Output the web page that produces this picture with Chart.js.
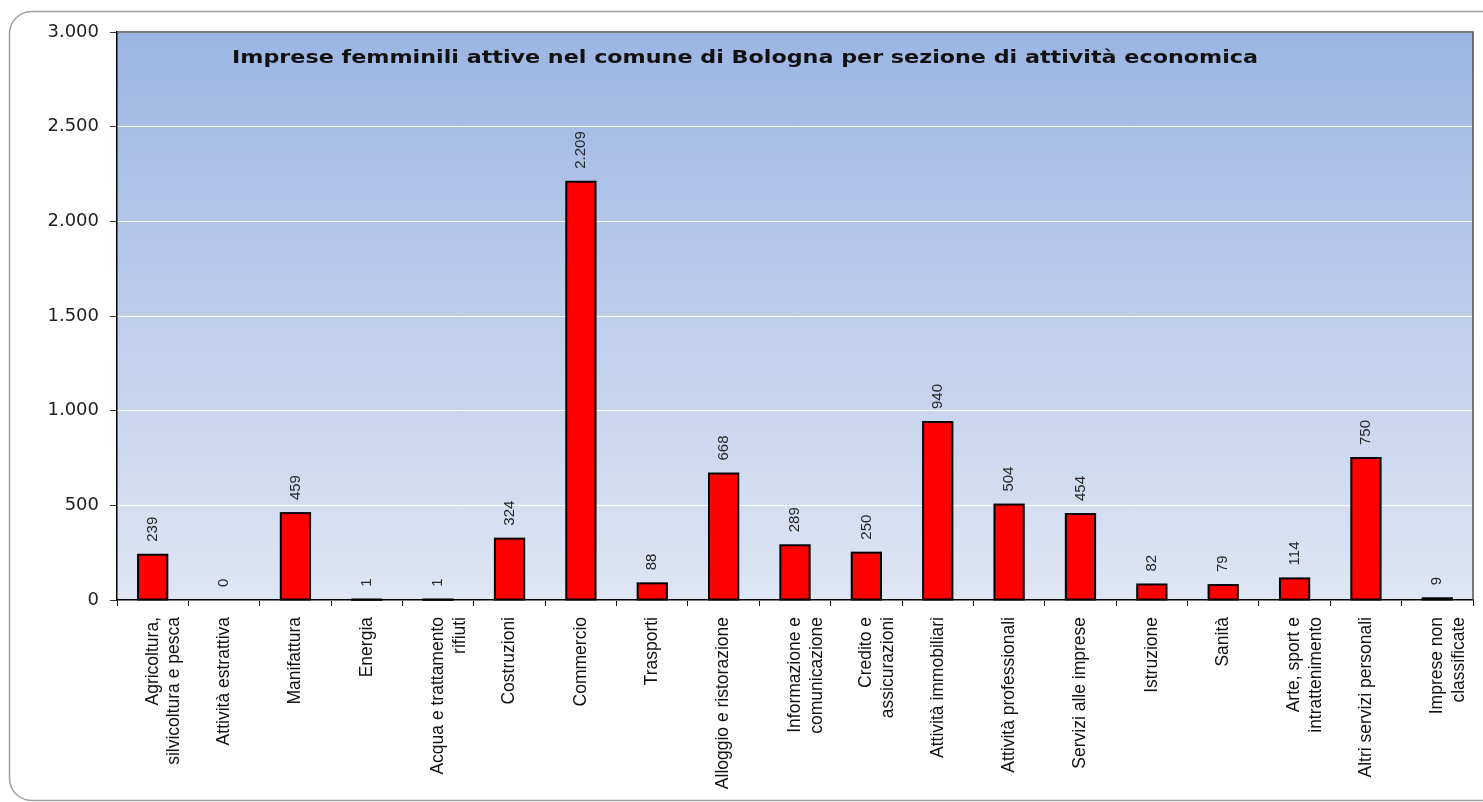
<!DOCTYPE html>
<html lang="it">
<head>
<meta charset="utf-8">
<title>Imprese femminili attive nel comune di Bologna</title>
<script src="https://cdn.jsdelivr.net/npm/chart.js@4/dist/chart.umd.min.js"></script>
<style>
  html, body { margin: 0; padding: 0; background: #ffffff; }
  #wrap { width: 1483px; height: 802px; position: relative; overflow: hidden; }
  canvas { display: block; }
</style>
</head>
<body>
<div id="wrap"><canvas id="chart" width="1483" height="802"></canvas></div>
<script>
// Sezioni di attività economica (etichette su più righe dove serve)
const categories = [
  ["Agricoltura,", "silvicoltura e pesca"],
  "Attività estrattiva",
  "Manifattura",
  "Energia",
  ["Acqua e trattamento", "rifiuti"],
  "Costruzioni",
  "Commercio",
  "Trasporti",
  "Alloggio e ristorazione",
  ["Informazione e", "comunicazione"],
  ["Credito e", "assicurazioni"],
  "Attività immobiliari",
  "Attività professionali",
  "Servizi alle imprese",
  "Istruzione",
  "Sanità",
  ["Arte, sport e", "intrattenimento"],
  "Altri servizi personali",
  ["Imprese non", "classificate"]
];

// Numero di imprese femminili attive per sezione
const imprese = [239, 0, 459, 1, 1, 324, 2209, 88, 668, 289, 250, 940, 504, 454, 82, 79, 114, 750, 9];

// Asse verticale
const yTicks = [0, 500, 1000, 1500, 2000, 2500, 3000];

const chartTitle = "Imprese femminili attive nel comune di Bologna per sezione di attività economica";

// Separatore delle migliaia all'italiana
function formatIt(v) {
  return String(Math.round(v)).replace(/\B(?=(\d{3})+(?!\d))/g, ".");
}

// Cornice arrotondata attorno al grafico (aperta a destra)
const framePlugin = {
  id: "frame",
  beforeDraw(chart) {
    const ctx = chart.ctx;
    ctx.save();
    ctx.strokeStyle = "#a0a0a0";
    ctx.lineWidth = 1.5;
    const x = 9.5, y = 11.5, right = 1483, bottom = 800.5, r = 22;
    ctx.beginPath();
    ctx.moveTo(right, y);
    ctx.lineTo(x + r, y);
    ctx.arcTo(x, y, x, y + r, r);
    ctx.lineTo(x, bottom - r);
    ctx.arcTo(x, bottom, x + r, bottom, r);
    ctx.lineTo(right, bottom);
    ctx.stroke();
    ctx.restore();
  }
};

// Sfondo sfumato dell'area del grafico e bordo superiore/destro
const plotBgPlugin = {
  id: "plotBg",
  beforeDraw(chart) {
    const { ctx, chartArea: a } = chart;
    const g = ctx.createLinearGradient(0, a.top, 0, a.bottom);
    g.addColorStop(0, "#9bb5e3");
    g.addColorStop(1, "#dfe6f4");
    ctx.save();
    ctx.fillStyle = g;
    ctx.fillRect(a.left, a.top, a.right - a.left, a.bottom - a.top);
    ctx.restore();
  },
  afterDatasetsDraw(chart) {
    const { ctx, chartArea: a } = chart;
    ctx.save();
    ctx.strokeStyle = "#505050";
    ctx.lineWidth = 1.5;
    ctx.beginPath();
    ctx.moveTo(a.left, a.top);
    ctx.lineTo(a.right, a.top);
    ctx.lineTo(a.right, a.bottom);
    ctx.stroke();
    ctx.restore();
  }
};

// Contorno nero delle barre e valori ruotati sopra di esse
const barLabelPlugin = {
  id: "barLabels",
  afterDatasetsDraw(chart) {
    const ctx = chart.ctx;
    const meta = chart.getDatasetMeta(0);
    const data = chart.data.datasets[0].data;
    ctx.save();
    meta.data.forEach((bar, i) => {
      const v = data[i];
      const p = bar.getProps(["x", "y", "base", "width"], true);
      if (v > 0) {
        ctx.strokeStyle = "#000000";
        ctx.lineWidth = 2;
        ctx.strokeRect(p.x - p.width / 2, p.y, p.width, p.base - p.y);
      }
      ctx.save();
      ctx.translate(p.x, p.y - 13);
      ctx.rotate(-Math.PI / 2);
      ctx.font = '15px "Liberation Sans", Arial, sans-serif';
      ctx.fillStyle = "#262626";
      ctx.textAlign = "left";
      ctx.textBaseline = "middle";
      ctx.fillText(formatIt(v), 0, 0);
      ctx.restore();
    });
    ctx.restore();
  }
};

// Titolo all'interno dell'area del grafico, in grassetto e un po' allargato
const innerTitlePlugin = {
  id: "innerTitle",
  afterDraw(chart) {
    const ctx = chart.ctx;
    const left = 232, width = 1026, baseline = 63;
    ctx.save();
    ctx.font = 'bold 18px "DejaVu Sans", Verdana, sans-serif';
    ctx.fillStyle = "#111111";
    ctx.textAlign = "left";
    ctx.textBaseline = "alphabetic";
    const sx = width / ctx.measureText(chartTitle).width;
    ctx.translate(left, baseline);
    ctx.scale(sx, 1);
    ctx.fillText(chartTitle, 0, 0);
    ctx.restore();
  }
};

new Chart(document.getElementById("chart"), {
  type: "bar",
  data: {
    labels: categories,
    datasets: [{
      label: "Imprese femminili attive",
      data: imprese,
      backgroundColor: "#ff0000",
      borderWidth: 0,
      barPercentage: 0.41,
      categoryPercentage: 1.0
    }]
  },
  options: {
    responsive: false,
    animation: false,
    devicePixelRatio: 1,
    layout: { padding: { left: 0, top: 32, right: 10, bottom: 0 } },
    plugins: {
      legend: { display: false },
      title: { display: false },
      tooltip: { enabled: false }
    },
    scales: {
      x: {
        afterFit(scale) {
          scale.height = 202;
          scale.paddingLeft = 0;
          scale.paddingRight = 0;
        },
        grid: {
          display: true,
          drawOnChartArea: false,
          drawTicks: true,
          tickLength: 6,
          tickColor: "#000000",
          offset: true
        },
        border: { display: true, color: "#000000", width: 1.5 },
        ticks: {
          autoSkip: false,
          maxRotation: 90,
          minRotation: 90,
          padding: 11,
          color: "#111111",
          font: { family: '"Liberation Sans", Arial, sans-serif', size: 17.5, lineHeight: 1.25 }
        }
      },
      y: {
        min: 0,
        max: 3000,
        afterFit(scale) {
          scale.width = 117;
          scale.paddingTop = 0;
          scale.paddingBottom = 0;
        },
        afterBuildTicks(scale) { scale.ticks = yTicks.map(v => ({ value: v })); },
        grid: {
          color: "#ffffff",
          lineWidth: 1,
          drawTicks: true,
          tickLength: 7,
          tickColor: "#333333"
        },
        border: { display: true, color: "#000000", width: 1.5 },
        ticks: {
          padding: 11,
          color: "#222222",
          font: { family: '"DejaVu Sans", Verdana, sans-serif', size: 18 },
          callback: (v) => formatIt(v)
        }
      }
    }
  },
  plugins: [framePlugin, plotBgPlugin, barLabelPlugin, innerTitlePlugin]
});
</script>
</body>
</html>
